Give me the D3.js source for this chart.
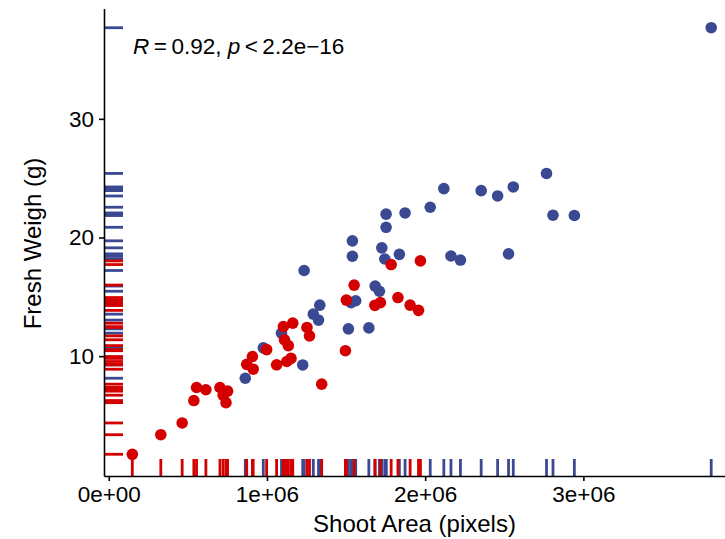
<!DOCTYPE html>
<html>
<head>
<meta charset="utf-8">
<script src="https://cdn.jsdelivr.net/npm/d3@7"></script>
<style>
  body { margin: 0; background: #fff; }
  text { font-family: "Liberation Sans", Arial, sans-serif; }
</style>
</head>
<body>
<div id="chart"></div>
<script>

// shoot area (pixels) and fresh weight (g), two groups
var redArea = [0.149e6, 0.329e6, 0.464e6, 0.538e6, 0.555e6, 0.614e6, 0.703e6, 0.751e6, 0.723e6, 0.741e6,
    0.872e6, 0.908e6, 0.913e6, 0.998e6, 1.061e6, 1.104e6, 1.163e6, 1.111e6, 1.135e6, 1.125e6,
    1.152e6, 1.253e6, 1.269e6, 1.346e6, 1.496e6, 1.502e6, 1.551e6, 1.682e6, 1.717e6, 1.828e6,
    1.905e6, 1.958e6, 1.785e6, 1.970e6];
var redWeight = [1.73, 3.38, 4.37, 6.26, 7.36, 7.17, 7.36, 7.05, 6.71, 6.08,
    9.31, 9.97, 8.90, 10.55, 9.27, 12.49, 12.78, 11.38, 10.89, 9.55,
    9.81, 12.42, 11.71, 7.64, 10.46, 14.73, 15.99, 14.28, 14.51, 14.94,
    14.30, 13.86, 17.72, 18.03];

var blueArea = [0.863e6, 0.977e6, 1.092e6, 1.226e6, 1.293e6, 1.334e6, 1.326e6, 1.515e6, 1.644e6, 1.561e6,
    1.532e6, 1.235e6, 1.684e6, 1.711e6, 1.540e6, 1.540e6, 1.726e6, 1.745e6, 1.837e6, 1.753e6,
    1.753e6, 1.873e6, 2.032e6, 2.118e6, 2.163e6, 2.223e6, 2.354e6, 2.458e6, 2.557e6, 2.527e6,
    2.767e6, 2.808e6, 2.943e6, 3.808e6];
var blueWeight = [8.14, 10.70, 11.94, 9.26, 13.54, 14.30, 13.04, 12.30, 12.38, 14.67,
    14.51, 17.22, 15.91, 15.47, 19.72, 18.42, 19.13, 18.19, 18.58, 21.97,
    20.86, 22.07, 22.55, 24.12, 18.44, 18.10, 23.95, 23.50, 24.26, 18.62,
    25.40, 21.88, 21.86, 37.68];

var xTicks = [0, 1e6, 2e6, 3e6];
var xTickLabels = ["0e+00", "1e+06", "2e+06", "3e+06"];
var yTicks = [10, 20, 30];

var blue = "#3B4992", red = "#D40000";

function build_scatter() {

    var width = 725, height = 539;
    var left = 104, right = 740, top = 8.5, bottom = 476;

    var svg = d3.select("#chart")
        .append("svg")
            .attr("width", width)
            .attr("height", height);

    var points = [];
    blueArea.forEach(function(a, i){ points.push({x: a, y: blueWeight[i], c: blue}); });
    redArea.forEach(function(a, i){ points.push({x: a, y: redWeight[i], c: red}); });

    var xScale = d3.scaleLinear()
        .domain([-0.03e6, 3.99e6])
        .range([left, right]);

    var yScale = d3.scaleLinear()
        .domain([-0.1, 39.3])
        .range([bottom, top]);

    // rugs
    var rugX = 17,
        rugY = 19;

    svg.append("g")
        .selectAll("line")
        .data(points)
        .enter()
        .append("line")
            .attr("x1", function(d){return xScale(d.x);})
            .attr("x2", function(d){return xScale(d.x);})
            .attr("y1", bottom)
            .attr("y2", bottom - rugX)
            .attr("stroke", function(d){return d.c;})
            .attr("stroke-width", 2.8);

    svg.append("g")
        .selectAll("line")
        .data(points)
        .enter()
        .append("line")
            .attr("y1", function(d){return yScale(d.y);})
            .attr("y2", function(d){return yScale(d.y);})
            .attr("x1", left)
            .attr("x2", left + rugY)
            .attr("stroke", function(d){return d.c;})
            .attr("stroke-width", 2.8);

    svg.append("g")
        .selectAll("circle")
        .data(points)
        .enter()
        .append("circle")
            .attr("cx", function(d){return xScale(d.x);})
            .attr("cy", function(d){return yScale(d.y);})
            .attr("r", 5.8)
            .attr("fill", function(d){return d.c;});

    // axes
    var xAxis = svg.append("g")
        .attr("transform", "translate(0," + bottom + ")")
        .call(d3.axisBottom(xScale)
            .tickValues(xTicks)
            .tickFormat(function(d, i){return xTickLabels[i];})
            .tickSize(5)
            .tickSizeOuter(0)
            .tickPadding(5));

    var yAxis = svg.append("g")
        .attr("transform", "translate(" + left + ",0)")
        .call(d3.axisLeft(yScale)
            .tickValues(yTicks)
            .tickSize(5)
            .tickSizeOuter(0)
            .tickPadding(5));

    [xAxis, yAxis].forEach(function(ax){
        ax.select(".domain").attr("stroke", "#000").attr("stroke-width", 1.6);
        ax.selectAll(".tick line").attr("stroke", "#000").attr("stroke-width", 1.6);
        ax.selectAll(".tick text")
            .attr("fill", "#000")
            .style("font-size", "22.5px")
            .style("font-family", "Liberation Sans, Arial, sans-serif");
    });

    svg.append("text")
        .attr("x", (left + width) / 2)
        .attr("y", 532)
        .attr("text-anchor", "middle")
        .style("font-size", "24px")
        .text("Shoot Area (pixels)");

    svg.append("text")
        .attr("transform", "translate(41," + 243.5 + ") rotate(-90)")
        .attr("text-anchor", "middle")
        .style("font-size", "24px")
        .text("Fresh Weigh (g)");

    // correlation label
    var lab = svg.append("text")
        .attr("x", left + 29)
        .attr("y", 54)
        .style("font-size", "22.5px");
    lab.append("tspan").style("font-style", "italic").text("R");
    lab.append("tspan").text("\u2009=\u20090.92, ");
    lab.append("tspan").style("font-style", "italic").text("p");
    lab.append("tspan").text("\u2009<\u20092.2e\u221216");
}
build_scatter()
</script>
</body>
</html>
